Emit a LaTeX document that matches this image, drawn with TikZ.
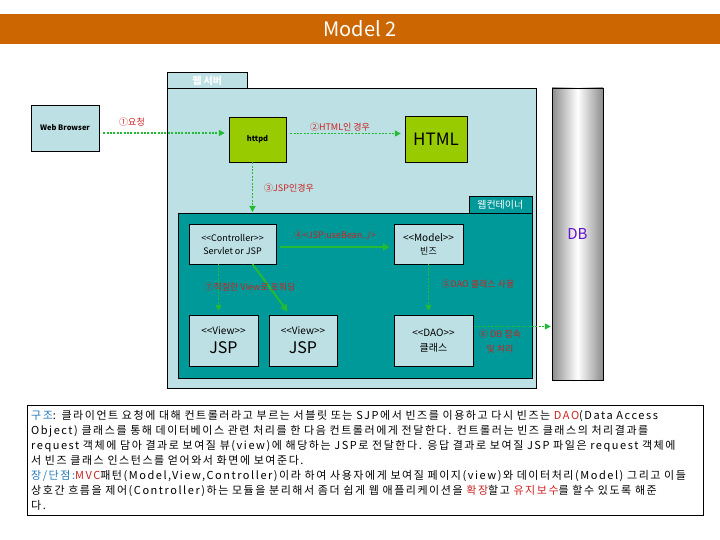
\documentclass[tikz,border=0pt]{standalone}
\usepackage{fontspec}
\setmainfont{Noto Sans CJK KR}
\usetikzlibrary{arrows.meta,positioning,calc}
\definecolor{titlebar}{HTML}{CC6600}
\definecolor{srvblue}{HTML}{BCE0E4}
\definecolor{contteal}{HTML}{009999}
\definecolor{boxgreen}{HTML}{99CC00}
\definecolor{arrgreen}{HTML}{22BB33}
\definecolor{lblred}{HTML}{CC2222}
\definecolor{dbpurple}{HTML}{6611CC}
\definecolor{keyblue}{HTML}{2277BB}

\begin{document}
\begin{tikzpicture}[x=1pt, y=-1pt, every node/.style={font=\fontsize{9}{11}\selectfont},
  panel/.style={draw, inner sep=0pt},
  unit/.style={draw, fill=srvblue, align=center, inner sep=1pt},
  lbl/.style={text=lblred, font=\fontsize{9}{10}\selectfont, align=center},
  dotarr/.style={draw=arrgreen, line width=1.6pt, dash pattern=on 2pt off 1.4pt, -{Triangle[length=6pt,width=6pt]}, shorten <=4pt, shorten >=4pt},
  solidarr/.style={draw=arrgreen, line width=2pt, -{Triangle[length=7pt,width=7pt]}, shorten <=4pt, shorten >=4pt}]
\useasboundingbox (0,0) rectangle (720,540);
% title bar
\fill[titlebar] (0,14) rectangle (720,44);
\node[text=white, font=\fontsize{20}{20}\selectfont] (title) at (360,29) {Model 2};
% web server
\node[panel, fill=srvblue, minimum width=80pt, minimum height=17pt, anchor=south west, text=white, font=\fontsize{10}{10}\selectfont\bfseries] (srvtab) at (167,89) {웹 서버};
\node[panel, fill=srvblue, minimum width=369pt, minimum height=300pt, anchor=north west] (server) at (167,88) {};
% web container
\node[panel, fill=contteal, minimum width=63pt, minimum height=17pt, anchor=south east, text=white, font=\fontsize{10}{10}\selectfont] (conttab) at (532,213) {웹컨테이너};
\node[panel, fill=contteal, minimum width=354pt, minimum height=165pt, anchor=north west] (cont) at (178,213) {};
% boxes
\node[unit, minimum width=68pt, minimum height=46pt, font=\fontsize{7.5}{9}\selectfont\bfseries] (browser) at (65,128) {Web Browser};
\node[unit, fill=boxgreen, minimum width=57pt, minimum height=45pt, font=\fontsize{7.5}{9}\selectfont\bfseries] (httpd) at (257.5,139.5) {httpd};
\node[unit, fill=boxgreen, minimum width=62pt, minimum height=46pt, font=\fontsize{17}{17}\selectfont] (html) at (436,139) {HTML};
\node[unit, minimum width=87pt, minimum height=40pt, font=\fontsize{9}{13}\selectfont] (ctrl) at (232.5,244) {<{}<Controller>{}>\\Servlet or JSP};
\node[unit, minimum width=69pt, minimum height=40pt, font=\fontsize{10}{13}\selectfont] (model) at (428.5,244) {<{}<Model>{}>\\{\fontsize{9}{11}\selectfont 빈즈}};
\node[unit, minimum width=69pt, minimum height=51pt, font=\fontsize{10}{19}\selectfont] (view1) at (223.5,340.5) {<{}<View>{}>\\{\fontsize{16}{16}\selectfont JSP}};
\node[unit, minimum width=68pt, minimum height=51pt, font=\fontsize{10}{19}\selectfont] (view2) at (303,340.5) {<{}<View>{}>\\{\fontsize{16}{16}\selectfont JSP}};
\node[unit, minimum width=79pt, minimum height=51pt, font=\fontsize{10}{15}\selectfont] (dao) at (433.5,340.5) {<{}<DAO>{}>\\클래스};
% database
\node[draw, minimum width=51pt, minimum height=292pt, left color=gray!90, right color=gray!90, middle color=white, text=dbpurple, font=\fontsize{15}{15}\selectfont] (db) at (577.5,234) {DB};
% connectors
\draw[dotarr] ([yshift=-5pt]browser.east) -- ([yshift=-5pt]browser.east -| httpd.west);
\draw[dotarr] ([yshift=6pt]httpd.east) -- ([yshift=6pt]httpd.east -| html.west);
\draw[dotarr, shorten <=0pt, shorten >=1pt] ([xshift=-5pt]httpd.south) -- ([xshift=-5pt]httpd.south |- cont.north);
\draw[solidarr] ([yshift=-3pt]ctrl.east) -- ([yshift=-3pt]ctrl.east -| model.west);
\draw[dotarr, shorten <=0pt] (model.south) -- (model.south |- dao.north);
\draw[dotarr, shorten <=0pt] ([xshift=-14pt]ctrl.south) -- ([xshift=-14pt]ctrl.south |- view1.north);
\draw[solidarr, shorten <=0pt] ([xshift=20pt]ctrl.south) -- ([xshift=-13pt]view2.north);
\draw[dotarr, shorten <=1pt, shorten >=1pt] ([yshift=14pt]dao.east) -- ([yshift=14pt]dao.east -| db.west);
% labels
\node[lbl] (l1) at (132,122) {①요청};
\node[lbl] (l2) at (340,127) {②HTML인 경우};
\node[lbl] (l3) at (289,188) {③JSP인경우};
\node[lbl] (l4) at (335,235) {④<JSP:useBean../>};
\node[lbl] (l5) at (478,284) {⑤DAO 클래스 사용};
\node[lbl] (l7) at (250,287) {⑦적절한 View로 포워딩};
\node[lbl, font=\fontsize{9}{15}\selectfont] (l6) at (500,342) {⑥ DB 접속\\ 및 처리};
% description
\node[draw, anchor=north west, minimum width=673pt, minimum height=110pt, text width=668pt, align=left, inner sep=4pt, font=\fontsize{11}{15}\selectfont\addfontfeature{LetterSpace=14}] (note) at (27,405) {%
{\color{keyblue}구조}: 클라이언트 요청에 대해 컨트롤러라고 부르는 서블릿 또는 SJP에서 빈즈를 이용하고 다시 빈즈는 {\color{lblred}DAO}(Data Access\\
Object) 클래스를 통해 데이터베이스 관련 처리를 한 다음 컨트롤러에게 전달한다. 컨트롤러는 빈즈 클래스의 처리결과를\\
request 객체에 담아 결과로 보여질 뷰(view)에 해당하는 JSP로 전달한다. 응답 결과로 보여질 JSP 파일은 request 객체에\\
서 빈즈 클래스 인스턴스를 얻어와서 화면에 보여준다.\\
{\color{keyblue}장/단점:}{\color{lblred}MVC}패턴(Model,View,Controller)이라 하여 사용자에게 보여질 페이지(view)와 데이터처리(Model) 그리고 이들\\
상호간 흐름을 제어(Controller)하는 모듈을 분리해서 좀더 쉽게 웹 애플리케이션을 {\color{lblred}확장}할고 {\color{lblred}유지보수}를 할수 있도록 해준\\
다.};
\end{tikzpicture}
\end{document}
